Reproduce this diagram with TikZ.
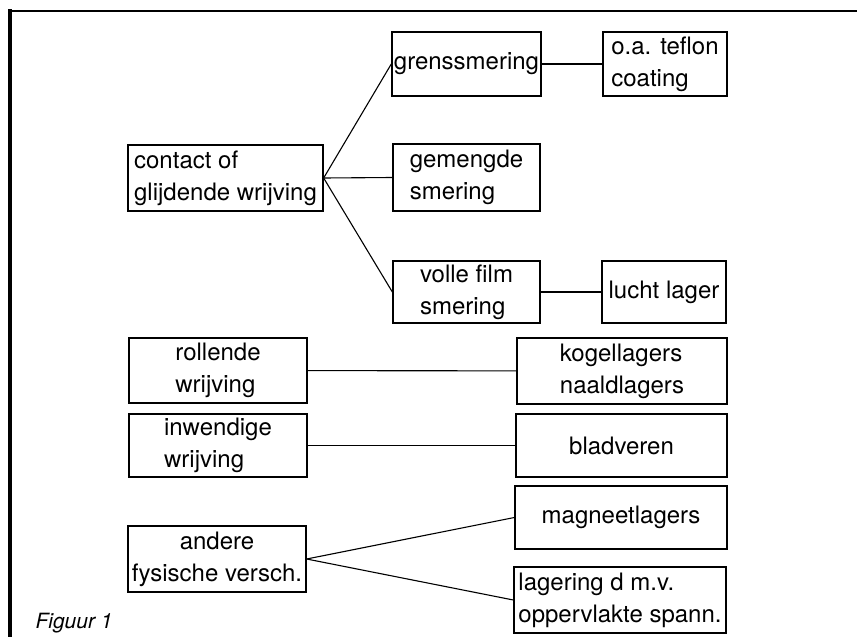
\documentclass[tikz,border=0pt]{standalone}
\usepackage{fontspec}
\setmainfont{TeX Gyre Heros}

\begin{document}
\begin{tikzpicture}[x=1pt,y=-1pt,
  blok/.style={draw,line width=1.3pt,inner xsep=2pt,inner ysep=0pt,align=left,
    font=\fontsize{24}{32}\selectfont},
  lijn/.style={line width=1.1pt}]
\useasboundingbox (0,0) rectangle (857,637);
% frame
\draw[line width=3.5pt] (10,9) -- (10,637);
\draw[line width=2.2pt] (8,11) -- (857,11);
% glijdende wrijving
\node[blok,minimum width=195pt,minimum height=66pt] (contact) at (225.5,178) {contact of\\glijdende wrijving};
\node[blok,minimum width=147pt,minimum height=64pt] (grens) at (466.5,64) {grenssmering};
\node[blok,minimum width=124pt,minimum height=64pt] (teflon) at (665,64) {o.a. teflon\\coating};
\node[blok,minimum width=147pt,minimum height=67pt] (gemengd) at (466.5,177.5) {gemengde\\smering};
\node[blok,minimum width=147pt,minimum height=62pt] (volle) at (466.5,292) {volle film\\smering};
\node[blok,minimum width=124pt,minimum height=62pt] (lucht) at (664,292) {lucht lager};
\draw[lijn] (contact.east) -- (grens.west);
\draw[lijn] (contact.east) -- (gemengd.west);
\draw[lijn] (contact.east) -- (volle.west);
\draw[lijn] (grens) -- (teflon);
\draw[lijn] (volle) -- (lucht);
% rollende en inwendige wrijving
\node[blok,minimum width=178pt,minimum height=65pt] (rollend) at (218,370.5) {rollende\\wrijving};
\node[blok,minimum width=210pt,minimum height=66pt] (kogel) at (622,371) {kogellagers\\naaldlagers};
\node[blok,minimum width=178pt,minimum height=63pt] (inwendig) at (218,445.5) {inwendige\\wrijving};
\node[blok,minimum width=211pt,minimum height=63pt] (blad) at (621.5,445.5) {bladveren};
\draw[lijn] (rollend) -- (kogel);
\draw[lijn] (inwendig) -- (blad);
% andere
\node[blok,align=center,minimum width=178pt,minimum height=66pt] (andere) at (217,559) {andere\\fysische versch.};
\node[blok,minimum width=212pt,minimum height=63pt] (magneet) at (621,517.5) {magneetlagers};
\node[blok,minimum width=212pt,minimum height=66pt] (opp) at (620,600) {lagering d m.v.\\oppervlakte spann.};
\draw[lijn] (andere.east) -- (magneet.west);
\draw[lijn] (andere.east) -- (opp.west);
\node[anchor=west,font=\fontsize{21}{24}\selectfont\itshape] (fig) at (32,623) {Figuur 1};
\end{tikzpicture}
\end{document}
